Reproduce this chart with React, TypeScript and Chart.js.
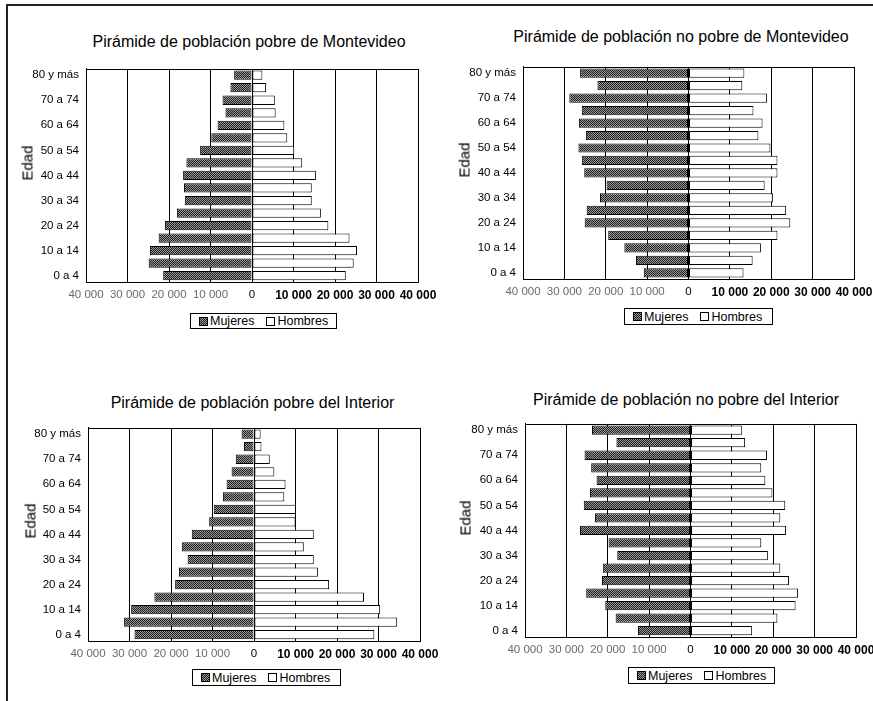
import React, { useEffect, useRef } from "react";
import { Chart, registerables } from "chart.js";

Chart.register(...registerables);

const ageLabels = [
  "0 a 4", "5 a 9", "10 a 14", "15 a 19", "20 a 24", "25 a 29", "30 a 34", "35 a 39",
  "40 a 44", "45 a 49", "50 a 54", "55 a 59", "60 a 64", "65 a 69", "70 a 74", "75 a 79", "80 y más",
];

const xTickValues = [-40000, -30000, -20000, -10000, 0, 10000, 20000, 30000, 40000];

const titles = [
  "Pirámide de población pobre de Montevideo",
  "Pirámide de población no pobre de Montevideo",
  "Pirámide de población pobre del Interior",
  "Pirámide de población no pobre del Interior",
];

const seriesNames = ["Mujeres", "Hombres"];

// Pobre Montevideo
const mujeresPobreMvd = [21400, 24900, 24600, 22500, 21000, 18100, 16200, 16400, 16600, 15800, 12500, 9800, 8300, 6400, 7100, 5200, 4300];
const hombresPobreMvd = [22600, 24500, 25300, 23500, 18400, 16600, 14400, 14400, 15400, 12100, 10200, 8500, 7800, 5700, 5500, 3400, 2500];

// No pobre Montevideo
const mujeresNoPobreMvd = [10800, 12700, 15500, 19400, 25100, 24600, 21400, 19800, 25200, 25800, 26600, 24800, 26500, 25800, 28800, 22000, 26200];
const hombresNoPobreMvd = [13300, 15500, 17500, 21500, 24600, 23600, 20400, 18400, 21500, 21500, 19800, 16900, 17900, 15700, 19000, 13000, 13500];

// Pobre Interior
const mujeresPobreInt = [28800, 31300, 29600, 24000, 19000, 18100, 16000, 17400, 15000, 10800, 9700, 7500, 6600, 5400, 4400, 2400, 3000];
const hombresPobreInt = [29000, 34500, 30400, 26500, 18100, 15400, 14400, 12000, 14400, 10000, 10100, 7300, 7600, 4900, 3800, 1800, 1600];

// No pobre Interior
const mujeresNoPobreInt = [12700, 18100, 20600, 25200, 21400, 21200, 17700, 19800, 26700, 23100, 25800, 24300, 22700, 24000, 25600, 17900, 23800];
const hombresNoPobreInt = [14900, 21000, 25400, 26000, 23800, 21700, 18700, 17100, 23100, 21700, 22900, 19800, 18100, 17100, 18500, 13200, 12500];

const FONT = '"Liberation Sans", Arial, Helvetica, sans-serif';

const Y_AXIS_W = 72;
const PAD_TOP = 8;
const PAD_RIGHT = 26;
const X_AXIS_H = 26;

function fmt(v: number): string {
  const s = String(Math.abs(v));
  return s.replace(/\B(?=(\d{3})+(?!\d))/g, " ");
}

function makePattern(): CanvasPattern | string {
  const c = document.createElement("canvas");
  c.width = 2;
  c.height = 2;
  const g = c.getContext("2d");
  if (!g) return "#555";
  g.fillStyle = "#9a9a9a";
  g.fillRect(0, 0, 2, 2);
  g.fillStyle = "#1e1e1e";
  g.fillRect(0, 0, 1, 1);
  g.fillRect(1, 1, 1, 1);
  const main = document.createElement("canvas").getContext("2d");
  return (main && main.createPattern(c, "repeat")) || "#555";
}

const frameBox = {
  id: "frameBox",
  afterDatasetsDraw(chart: any) {
    const { ctx, chartArea } = chart;
    ctx.save();
    ctx.strokeStyle = "#000";
    ctx.lineWidth = 1;
    ctx.strokeRect(
      Math.round(chartArea.left) + 0.5,
      Math.round(chartArea.top) + 0.5,
      Math.round(chartArea.right - chartArea.left),
      Math.round(chartArea.bottom - chartArea.top)
    );
    ctx.restore();
  },
};

type PlotRect = { left: number; top: number; width: number; height: number };

function Pyramid({ plot, mujeres, hombres }: { plot: PlotRect; mujeres: number[]; hombres: number[] }) {
  const ref = useRef<HTMLCanvasElement | null>(null);
  const cw = Math.round(plot.width + Y_AXIS_W + PAD_RIGHT);
  const ch = Math.round(plot.height + PAD_TOP + X_AXIS_H);

  useEffect(() => {
    if (!ref.current) return;
    const pattern = makePattern();
    const chart = new Chart(ref.current, {
      type: "bar",
      data: {
        labels: ageLabels,
        datasets: [
          {
            label: seriesNames[0],
            data: mujeres.map((v) => -v),
            backgroundColor: pattern as any,
            borderColor: "#000",
            borderWidth: 1,
            borderSkipped: false,
            barPercentage: 0.74,
            categoryPercentage: 1,
          },
          {
            label: seriesNames[1],
            data: hombres,
            backgroundColor: "#fff",
            borderColor: "#000",
            borderWidth: 1,
            borderSkipped: false,
            barPercentage: 0.74,
            categoryPercentage: 1,
          },
        ],
      },
      options: {
        indexAxis: "y",
        animation: false,
        responsive: false,
        devicePixelRatio: 1,
        layout: { padding: { top: PAD_TOP, right: PAD_RIGHT, left: 0, bottom: 0 } },
        plugins: {
          legend: { display: false },
          title: { display: false },
          tooltip: { enabled: false },
        },
        scales: {
          x: {
            type: "linear",
            stacked: true,
            min: -40000,
            max: 40000,
            afterBuildTicks: (scale: any) => {
              scale.ticks = xTickValues.map((v) => ({ value: v }));
            },
            afterFit: (scale: any) => {
              scale.height = X_AXIS_H;
            },
            grid: { color: "#000", lineWidth: 1, drawTicks: false },
            border: { display: true, color: "#000", width: 1 },
            ticks: {
              padding: 6,
              maxRotation: 0,
              autoSkip: false,
              callback: (v: any) => fmt(Number(v)),
              color: (ctx: any) => (ctx.tick && ctx.tick.value < 0 ? "#6a6a6a" : "#000"),
              font: (ctx: any) => {
                const v = ctx.tick ? ctx.tick.value : 0;
                if (v > 0) return { family: FONT, size: 12, weight: "bold" };
                if (v === 0) return { family: FONT, size: 11.5, weight: "normal" };
                return { family: FONT, size: 11.5, weight: "normal" };
              },
            },
          },
          y: {
            type: "category",
            stacked: true,
            reverse: true,
            afterFit: (scale: any) => {
              scale.width = Y_AXIS_W;
            },
            grid: { display: false, drawTicks: false },
            border: { display: true, color: "#000", width: 1 },
            ticks: {
              autoSkip: false,
              padding: 7,
              color: "#000",
              font: { family: FONT, size: 11.5 },
              callback: (_v: any, i: number) => (i % 2 === 0 ? ageLabels[i] : ""),
            },
          },
        },
      },
      plugins: [frameBox],
    } as any);
    return () => chart.destroy();
  }, [mujeres, hombres]);

  return (
    <canvas
      ref={ref}
      width={cw}
      height={ch}
      style={{
        position: "absolute",
        left: plot.left - Y_AXIS_W,
        top: plot.top - PAD_TOP,
        width: cw,
        height: ch,
      }}
    />
  );
}

function Title({ text, cx, baseline }: { text: string; cx: number; baseline: number }) {
  const fs = 16;
  return (
    <div
      style={{
        position: "absolute",
        left: cx,
        top: baseline - 0.8465 * fs,
        transform: "translateX(-50%)",
        whiteSpace: "nowrap",
        fontFamily: FONT,
        fontWeight: "normal",
        fontSize: fs,
        lineHeight: fs + "px",
        color: "#000",
      }}
    >
      {text}
    </div>
  );
}

function AxisTitle({ cx, cy }: { cx: number; cy: number }) {
  return (
    <div
      style={{
        position: "absolute",
        left: cx,
        top: cy,
        transform: "translate(-50%, -50%) rotate(-90deg)",
        whiteSpace: "nowrap",
        fontFamily: FONT,
        fontWeight: "normal",
        fontSize: 15,
        lineHeight: "15px",
        color: "#000",
      }}
    >
      Edad
    </div>
  );
}

function Legend({ left, top, width, height }: { left: number; top: number; width: number; height: number }) {
  const sw: React.CSSProperties = {
    width: 7,
    height: 7,
    border: "1px solid #000",
    flex: "0 0 auto",
  };
  return (
    <div
      style={{
        position: "absolute",
        left,
        top,
        width,
        height,
        boxSizing: "border-box",
        border: "1px solid #000",
        display: "flex",
        alignItems: "center",
        paddingLeft: 8,
        fontFamily: FONT,
        fontSize: 12.5,
        lineHeight: "12px",
        color: "#000",
        background: "#fff",
      }}
    >
      <span
        style={{
          ...sw,
          background: "repeating-conic-gradient(#1e1e1e 0 25%, #9a9a9a 0 50%) 0 0 / 2px 2px",
        }}
      />
      <span style={{ marginLeft: 2 }}>{seriesNames[0]}</span>
      <span style={{ ...sw, marginLeft: 12, background: "#fff" }} />
      <span style={{ marginLeft: 2 }}>{seriesNames[1]}</span>
    </div>
  );
}

const panels = [
  {
    plot: { left: 86.3, top: 62.7, width: 332, height: 219 },
    mujeres: mujeresPobreMvd,
    hombres: hombresPobreMvd,
    title: { cx: 249, baseline: 47.3 },
    edad: { cx: 27, cy: 162.5 },
    legend: { left: 190, top: 313, width: 147, height: 16 },
  },
  {
    plot: { left: 523, top: 60.7, width: 330.7, height: 217.6 },
    mujeres: mujeresNoPobreMvd,
    hombres: hombresNoPobreMvd,
    title: { cx: 681, baseline: 43 },
    edad: { cx: 464, cy: 159.5 },
    legend: { left: 624, top: 308, width: 149, height: 17 },
  },
  {
    plot: { left: 88.3, top: 421.7, width: 332, height: 219.3 },
    mujeres: mujeresPobreInt,
    hombres: hombresPobreInt,
    title: { cx: 252.5, baseline: 409 },
    edad: { cx: 29.5, cy: 521 },
    legend: { left: 192, top: 669, width: 149, height: 17 },
  },
  {
    plot: { left: 525.4, top: 418.3, width: 330.5, height: 219 },
    mujeres: mujeresNoPobreInt,
    hombres: hombresNoPobreInt,
    title: { cx: 686, baseline: 406 },
    edad: { cx: 464.5, cy: 517.5 },
    legend: { left: 628, top: 667, width: 147, height: 17 },
  },
];

export default function App() {
  return (
    <div
      style={{
        position: "fixed",
        left: 0,
        top: 0,
        width: 873,
        height: 701,
        overflow: "hidden",
        background: "#fff",
      }}
    >
      <div style={{ position: "absolute", left: 6, top: 4, width: 867, height: 2, background: "#222" }} />
      <div style={{ position: "absolute", left: 6, top: 4, width: 2, height: 697, background: "#222" }} />
      {panels.map((p, i) => (
        <React.Fragment key={i}>
          <Pyramid plot={p.plot} mujeres={p.mujeres} hombres={p.hombres} />
          <Title text={titles[i]} cx={p.title.cx} baseline={p.title.baseline} />
          <AxisTitle cx={p.edad.cx} cy={p.edad.cy} />
          <Legend {...p.legend} />
        </React.Fragment>
      ))}
    </div>
  );
}
